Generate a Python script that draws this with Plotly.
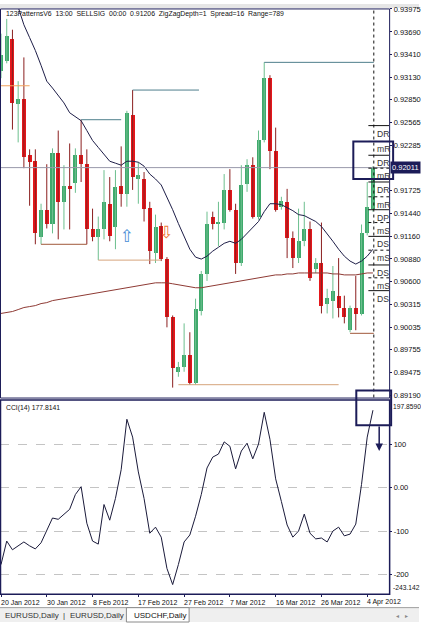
import plotly.graph_objects as go

W, H = 421, 625

# ---------------- data ----------------
opens = [0.93204, 0.93326, 0.93608, 0.92800, 0.92861, 0.92164, 0.92090, 0.91148, 0.91490, 0.91319,
         0.92188, 0.91588, 0.91784, 0.91821, 0.92164, 0.92053, 0.91258, 0.91148, 0.91258, 0.91564,
         0.91282, 0.91784, 0.91686, 0.92665, 0.91870, 0.91870, 0.91515, 0.90952, 0.91295, 0.90879,
         0.90157, 0.89484, 0.89545, 0.89692, 0.89349, 0.90242, 0.90695, 0.91405, 0.91319, 0.91331,
         0.91735, 0.91490, 0.90830, 0.91809, 0.92041, 0.91405, 0.92359, 0.93118, 0.92212, 0.91527,
         0.91588, 0.91136, 0.90891, 0.91099, 0.91246, 0.90756, 0.90830, 0.90328, 0.90365, 0.90426,
         0.90279, 0.89998, 0.90279, 0.90206, 0.91197, 0.91503]
highs = [0.93669, 0.93852, 0.93718, 0.93081, 0.93375, 0.92237, 0.92237, 0.91564, 0.92053, 0.92249,
         0.92470, 0.92041, 0.92310, 0.92249, 0.92604, 0.92237, 0.91503, 0.91405, 0.91980, 0.91894,
         0.91980, 0.92274, 0.92714, 0.92971, 0.92078, 0.91956, 0.91588, 0.91429, 0.91331, 0.90903,
         0.90181, 0.89606, 0.90083, 0.89973, 0.90389, 0.90732, 0.91466, 0.91466, 0.91588, 0.91931,
         0.91992, 0.91564, 0.92041, 0.92115, 0.92139, 0.92470, 0.93314, 0.93155, 0.92506, 0.91650,
         0.91748, 0.91221, 0.91503, 0.91588, 0.91344, 0.90891, 0.91331, 0.90511, 0.90793, 0.90891,
         0.90426, 0.90303, 0.90671, 0.91307, 0.91833, 0.92029]
lows = [0.93118, 0.93302, 0.92482, 0.92323, 0.92004, 0.91539, 0.91062, 0.91062, 0.91258, 0.91197,
        0.91123, 0.91246, 0.91246, 0.91699, 0.91833, 0.91062, 0.91099, 0.90866, 0.91123, 0.91099,
        0.91001, 0.91527, 0.91527, 0.91735, 0.91564, 0.91344, 0.90817, 0.90830, 0.90854, 0.90034,
        0.89288, 0.89422, 0.89484, 0.89324, 0.89324, 0.90181, 0.90609, 0.91246, 0.91038, 0.91246,
        0.91466, 0.90695, 0.90793, 0.91711, 0.91380, 0.91368, 0.92323, 0.91992, 0.91466, 0.91490,
        0.90891, 0.90768, 0.90830, 0.91038, 0.90609, 0.90707, 0.90206, 0.90206, 0.90144, 0.90157,
        0.90083, 0.89973, 0.89998, 0.90181, 0.91172, 0.91466]
closes = [0.93400, 0.93644, 0.92812, 0.92861, 0.92139, 0.92078, 0.91197, 0.91490, 0.91319, 0.92188,
          0.91588, 0.91784, 0.91748, 0.92164, 0.92053, 0.91258, 0.91148, 0.91258, 0.91588, 0.91160,
          0.91772, 0.91686, 0.92690, 0.91894, 0.91919, 0.91503, 0.90977, 0.91282, 0.90879, 0.90157,
          0.89532, 0.89545, 0.89692, 0.89349, 0.90267, 0.90695, 0.91319, 0.91319, 0.91331, 0.91735,
          0.91490, 0.90830, 0.91796, 0.92041, 0.91405, 0.92359, 0.93118, 0.92212, 0.91490, 0.91601,
          0.91136, 0.90891, 0.91099, 0.91246, 0.90646, 0.90830, 0.90303, 0.90401, 0.90487, 0.90279,
          0.90157, 0.90279, 0.90206, 0.91197, 0.91527, 0.92011]

ma_fast = [None, None, None, 0.93999, 0.93779, 0.93620, 0.93461, 0.93277, 0.93081, 0.92996,
           0.92910, 0.92812, 0.92690, 0.92641, 0.92592, 0.92470, 0.92347, 0.92261, 0.92176, 0.92090,
           0.92066, 0.92041, 0.92090, 0.92090, 0.92078, 0.92029, 0.91931, 0.91870, 0.91796, 0.91650,
           0.91490, 0.91319, 0.91148, 0.91001, 0.90903, 0.90879, 0.90915, 0.90977, 0.91025, 0.91074,
           0.91099, 0.91074, 0.91123, 0.91197, 0.91270, 0.91344, 0.91466, 0.91564, 0.91564, 0.91552,
           0.91515, 0.91478, 0.91429, 0.91417, 0.91380, 0.91344, 0.91282, 0.91197, 0.91099, 0.91001,
           0.90915, 0.90854, 0.90817, 0.90854, 0.90915, 0.91001]
ma_slow = [0.90206, 0.90218, 0.90230, 0.90254, 0.90279, 0.90291, 0.90303, 0.90328, 0.90340, 0.90365,
           0.90377, 0.90389, 0.90401, 0.90413, 0.90426, 0.90438, 0.90450, 0.90462, 0.90475, 0.90487,
           0.90499, 0.90511, 0.90524, 0.90536, 0.90548, 0.90560, 0.90573, 0.90585, 0.90585, 0.90585,
           0.90573, 0.90560, 0.90548, 0.90536, 0.90524, 0.90524, 0.90536, 0.90548, 0.90560, 0.90573,
           0.90585, 0.90597, 0.90609, 0.90622, 0.90634, 0.90646, 0.90658, 0.90671, 0.90683, 0.90683,
           0.90695, 0.90695, 0.90707, 0.90707, 0.90707, 0.90707, 0.90707, 0.90707, 0.90695, 0.90695,
           0.90683, 0.90683, 0.90683, 0.90695, 0.90707, 0.90707]
cci = [-177, -123, -143, -134, -125, -134, -141, -127, -100, -70,
       -73, -61, -50, -16, 2, -82, -123, -130, -39, -75,
       -25, 41, 157, 116, 36, -25, -105, -91, -114, -186,
       -223, -177, -125, -109, -66, -16, 45, 70, 77, 105,
       95, 43, 84, 102, 66, 100, 173, 111, 20, -32,
       -86, -114, -100, -61, -105, -118, -116, -125, -100, -91,
       -111, -107, -84, 7, 116, 177.81]

tick_idx = [0, 8, 16, 24, 32, 40, 48, 56, 64]
tick_labels = ["20 Jan 2012", "30 Jan 2012", "8 Feb 2012", "17 Feb 2012", "27 Feb 2012",
               "7 Mar 2012", "16 Mar 2012", "26 Mar 2012", "4 Apr 2012"]
price_ticks = [0.93975, 0.93690, 0.93410, 0.93130, 0.92850, 0.92565, 0.92285, 0.91725,
               0.91440, 0.91160, 0.90880, 0.90600, 0.90315, 0.90035, 0.89755, 0.89475, 0.89190]
cci_ticks = [100, 0, -100, -200]
cci_tick_text = ["100", "0.00", "-100", "-200"]
price_range = [0.89165, 0.93975]
cci_range = [-243.142, 197.859]
current_price = 0.92011
cci_value = 177.8141

# zigzag / pattern levels
lvl_start = [46, 23, 14, 7, 17, 31, 61, -0.2]
lvl_end = [65.15, 34.6, 21, 15, 28, 59, 65.15, 5]
lvl_price = [0.93314, 0.92971, 0.92604, 0.91062, 0.90866, 0.89324, 0.89960, 0.93024]
lvl_kind = ["hi", "hi", "hi", "lo", "lo2", "lo2", "lo", "mark"]

# pivot levels at right edge
pivot_price = [0.92531, 0.92335, 0.92164, 0.92004, 0.91833, 0.91650, 0.91490,
               0.91331, 0.91160, 0.90989, 0.90806, 0.90647, 0.90488]
pivot_name = ["DR", "mR", "DR", "mR", "DR", "mR", "DP", "mS", "DS", "mS", "DS", "mS", "DS"]

# signal arrows (bar index, price)
sig_up = (22, 0.91142)
sig_dn = (28.9, 0.91197)
current_bar = 65.15
header = "\u00a0\u00a0".join(["123PatternsV6", "13:00", "SELLSIG", "00:00", "0.91206",
                               "ZigZagDepth=1", "Spread=16", "Range=789"])

# ---------------- styling ----------------
GREEN = "#3fa96c"
GREEN_WICK = "#6cbf8e"
RED = "#e5171b"
RED_WICK = "#8b1f1f"
NAVY = "#1c1c58"
FONT = "Liberation Sans"
XR = [-0.174, 67.83]


def pxx(x):
    return x / W


def pxy(y):
    return 1 - y / H


fig = go.Figure()
idx = list(range(len(opens)))

# wicks
for up, col in ((True, GREEN_WICK), (False, RED_WICK)):
    xs, ys = [], []
    for i in idx:
        if (closes[i] >= opens[i]) == up:
            xs += [i, i, None]
            ys += [lows[i], highs[i], None]
    fig.add_trace(go.Scatter(x=xs, y=ys, mode="lines", line=dict(color=col, width=1),
                             hoverinfo="skip", showlegend=False, xaxis="x", yaxis="y"))

# bodies
for up, col in ((True, GREEN), (False, RED)):
    bx, bh, bb = [], [], []
    for i in idx:
        if (closes[i] >= opens[i]) == up:
            bx.append(i)
            bh.append(max(abs(closes[i] - opens[i]), 0.00008))
            bb.append(min(opens[i], closes[i]))
    fig.add_trace(go.Bar(x=bx, y=bh, base=bb, width=0.7, marker=dict(color=col, line=dict(width=0)),
                         showlegend=False, xaxis="x", yaxis="y", hoverinfo="skip"))

fig.add_trace(go.Scatter(x=idx, y=ma_slow, mode="lines", line=dict(color="#8e3a34", width=1),
                         showlegend=False, xaxis="x", yaxis="y"))
fig.add_trace(go.Scatter(x=idx, y=ma_fast, mode="lines", line=dict(color="#1e1e48", width=1),
                         showlegend=False, xaxis="x", yaxis="y"))

# signal arrows
fig.add_trace(go.Scatter(x=[sig_up[0]], y=[sig_up[1]], mode="text", text=["\u21e7"],
                         textfont=dict(size=17, color="#4a8fd6", family="DejaVu Sans"),
                         showlegend=False, xaxis="x", yaxis="y"))
fig.add_trace(go.Scatter(x=[sig_dn[0]], y=[sig_dn[1]], mode="text", text=["\u21e9"],
                         textfont=dict(size=17, color="#ee7a3a", family="DejaVu Sans"),
                         showlegend=False, xaxis="x", yaxis="y"))

# CCI
fig.add_trace(go.Scatter(x=idx, y=cci, mode="lines", line=dict(color="#1a1a3a", width=1),
                         showlegend=False, xaxis="x2", yaxis="y2"))

shapes = []
# top strip
shapes.append(dict(type="rect", xref="paper", yref="paper", x0=0, x1=1, y0=pxy(4), y1=1,
                   fillcolor="#e6e6e6", line=dict(width=0), layer="below"))
# tab bar
shapes.append(dict(type="rect", xref="paper", yref="paper", x0=0, x1=1, y0=0, y1=pxy(611),
                   fillcolor="#efefef", line=dict(width=0), layer="below"))
shapes.append(dict(type="line", xref="paper", yref="paper", x0=0, x1=1, y0=pxy(610.5), y1=pxy(610.5),
                   line=dict(color="#9a9a9a", width=1)))
shapes.append(dict(type="rect", xref="paper", yref="paper", x0=pxx(127), x1=pxx(190), y0=0, y1=pxy(610.5),
                   fillcolor="white", line=dict(color="#8a8a8a", width=1)))

# current price line
shapes.append(dict(type="line", xref="x", yref="y", x0=XR[0], x1=XR[1], y0=current_price, y1=current_price,
                   line=dict(color="#9898aa", width=1)))

# zigzag levels
kind_col = {"hi": "#4f7f8c", "lo": "#a0583a", "lo2": "#d6a47c", "mark": "#f2a35e"}
for s, e, p, k in zip(lvl_start, lvl_end, lvl_price, lvl_kind):
    shapes.append(dict(type="line", xref="x", yref="y", x0=s, x1=e, y0=p, y1=p,
                       line=dict(color=kind_col[k], width=1.2 if k == "mark" else 1)))

# pivot level lines
for p, n in zip(pivot_price, pivot_name):
    shapes.append(dict(type="line", xref="x", yref="y", x0=64.2, x1=XR[1], y0=p, y1=p,
                       line=dict(color="#111111", width=1, dash="dot" if n.startswith("m") else "solid")))

# current bar dashed line
shapes.append(dict(type="line", xref="x", yref="paper", x0=current_bar, x1=current_bar,
                   y0=pxy(398), y1=pxy(5), line=dict(color="#111111", width=1, dash="dot")))

# pane frames
shapes.append(dict(type="rect", xref="paper", yref="paper", x0=pxx(0.5), x1=pxx(391.5), y0=pxy(398.5),
                   y1=pxy(5), line=dict(color=NAVY, width=1)))
shapes.append(dict(type="rect", xref="paper", yref="paper", x0=pxx(0.5), x1=pxx(391.5), y0=pxy(597),
                   y1=pxy(400.5), line=dict(color=NAVY, width=1.5)))

# highlight boxes
shapes.append(dict(type="rect", xref="paper", yref="paper", x0=pxx(355), x1=pxx(395), y0=pxy(177),
                   y1=pxy(139), line=dict(color=NAVY, width=2)))
shapes.append(dict(type="rect", xref="paper", yref="paper", x0=pxx(358), x1=pxx(393), y0=pxy(426),
                   y1=pxy(391), line=dict(color=NAVY, width=2)))

ann = []
ann.append(dict(xref="paper", yref="paper", x=pxx(4), y=pxy(10), text=header, showarrow=False,
                xanchor="left", yanchor="middle", font=dict(family=FONT, size=6.9, color="#111")))
ann.append(dict(xref="paper", yref="paper", x=pxx(4), y=pxy(408.5),
                text="CCI(14) %.4f" % cci_value, showarrow=False,
                xanchor="left", yanchor="middle", font=dict(family=FONT, size=6.8, color="#111")))
for t, lab in zip(tick_idx, tick_labels):
    ann.append(dict(xref="x2", yref="paper", x=t, y=pxy(605), text=lab, showarrow=False,
                    xanchor="left", yanchor="middle", xshift=-2,
                    font=dict(family=FONT, size=7, color="#111")))
# price tag
ann.append(dict(xref="paper", yref="y", x=pxx(392), y=current_price, text="0.92011", showarrow=False,
                xanchor="left", yanchor="middle", bgcolor=NAVY, borderpad=1,
                font=dict(family=FONT, size=7.5, color="white")))
ann.append(dict(xref="paper", yref="y2", x=pxx(392.5), y=cci_range[1], text="197.8590", showarrow=False,
                xanchor="left", yanchor="top", font=dict(family=FONT, size=6.7, color="#111")))
ann.append(dict(xref="paper", yref="y2", x=pxx(392.5), y=cci_range[0], text="-243.142", showarrow=False,
                xanchor="left", yanchor="bottom", font=dict(family=FONT, size=6.7, color="#111")))
# pivot labels
for p, n in zip(pivot_price, pivot_name):
    ann.append(dict(xref="x", yref="y", x=65.4, y=p, text=n, showarrow=False, xanchor="left",
                    yanchor="top", yshift=-1, font=dict(family=FONT, size=8.6, color="#333")))
# arrow from box
ann.append(dict(xref="paper", yref="paper", x=pxx(381), y=pxy(452), ax=0, ay=-26, text="",
                showarrow=True, arrowhead=2, arrowsize=1, arrowwidth=1.5, arrowcolor=NAVY))
# tabs
for x0, t in ((3, "EURUSD,Daily"), (61, "|"), (68, "EURUSD,Daily"), (133, "USDCHF,Daily")):
    ann.append(dict(xref="paper", yref="paper", x=pxx(x0), y=pxy(618), text=t, showarrow=False,
                    xanchor="left", yanchor="middle",
                    font=dict(family=FONT, size=8, color="#111" if t.startswith("USD") else "#333")))
ann.append(dict(xref="paper", yref="paper", x=pxx(396), y=pxy(618), text="\u25c2\u2003\u25b8", showarrow=False,
                xanchor="left", yanchor="middle", font=dict(family="DejaVu Sans", size=6, color="#888")))

fig.update_layout(
    width=W, height=H, margin=dict(l=0, r=0, t=0, b=0),
    paper_bgcolor="white", plot_bgcolor="white",
    barmode="overlay", bargap=0, showlegend=False,
    shapes=shapes, annotations=ann,
    xaxis=dict(domain=[0, 391 / W], range=XR, anchor="y", showticklabels=False, showgrid=False,
               zeroline=False, showline=False, ticks=""),
    xaxis2=dict(domain=[0, 391 / W], range=XR, anchor="y2", matches="x", showticklabels=False,
                showgrid=False, zeroline=False, showline=False, tickmode="array", tickvals=tick_idx,
                ticks="outside", ticklen=3, tickcolor=NAVY),
    yaxis=dict(domain=[1 - 398 / H, 1 - 5 / H], range=price_range, side="right", anchor="x",
               tickmode="array", tickvals=price_ticks, tickformat=".5f", ticks="outside", ticklen=2,
               tickcolor=NAVY, tickfont=dict(family=FONT, size=7.5, color="#111"),
               showgrid=False, zeroline=False, showline=False),
    yaxis2=dict(domain=[1 - 596 / H, 1 - 402 / H], range=cci_range, side="right", anchor="x2",
                tickmode="array", tickvals=cci_ticks, ticktext=cci_tick_text, ticks="outside", ticklen=2,
                tickcolor=NAVY, tickfont=dict(family=FONT, size=7.5, color="#111"),
                showgrid=True, gridcolor="#c4c4c4", griddash="dash", gridwidth=1,
                zeroline=False, showline=False),
)

fig.write_html("out.html")
